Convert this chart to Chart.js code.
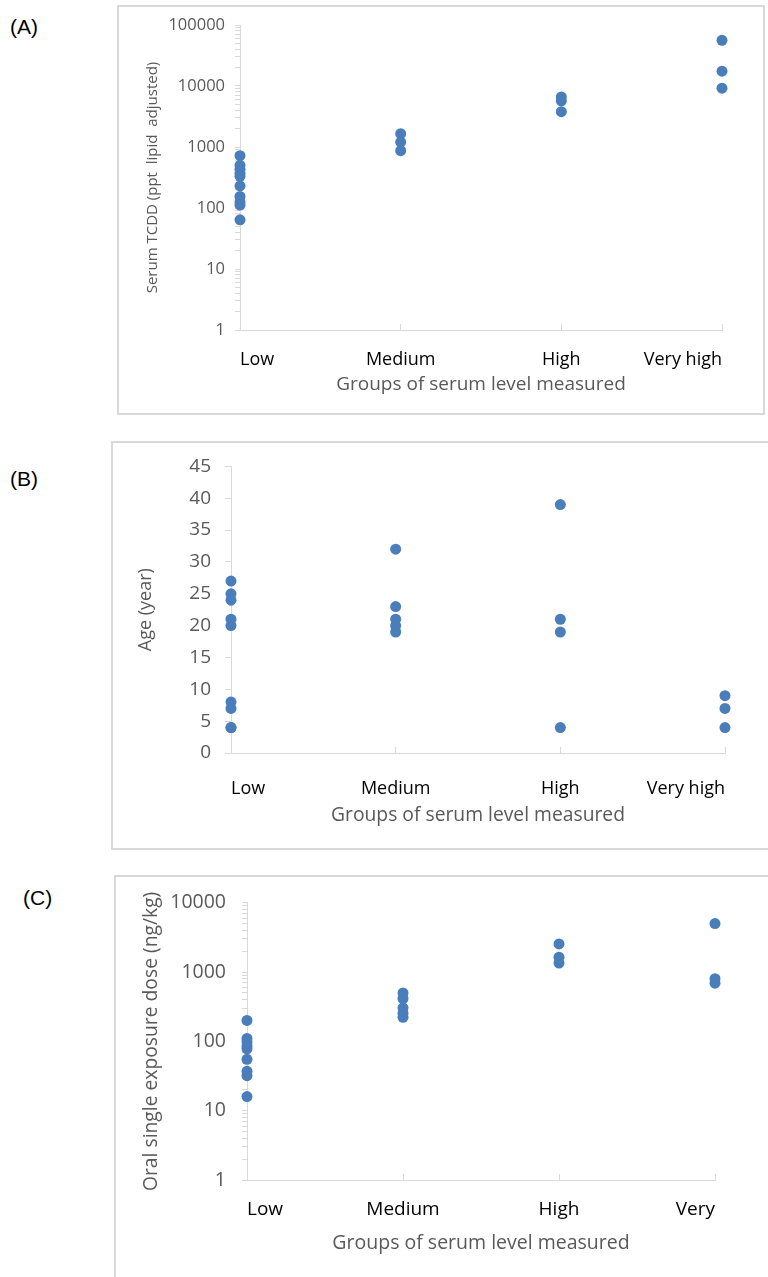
<!DOCTYPE html>
<html>
<head>
<meta charset="utf-8">
<script src="https://cdn.jsdelivr.net/npm/chart.js@4.4.1/dist/chart.umd.min.js"></script>
<style>
  body { margin: 0; background: #fff; width: 768px; height: 1277px; overflow: hidden; position: relative; font-family: "Liberation Sans", Arial, sans-serif; }
  .tag { position: absolute; font-size: 21px; color: #000; }
  .box { position: absolute; outline: 2px solid #d9d9d9; outline-offset: -2px; }
  .box canvas { position: absolute; left: 0; top: 0; }
</style>
</head>
<body>

<div class="tag" style="left:10px; top:15px;">(A)</div>
<div class="tag" style="left:10px; top:467px;">(B)</div>
<div class="tag" style="left:23px; top:886px;">(C)</div>

<div class="box" style="left:117px; top:5px; width:648px; height:410px;">
  <canvas id="chartA" width="648" height="410"></canvas>
</div>
<div class="box" style="left:111px; top:441px; width:659px; height:409px;">
  <canvas id="chartB" width="657" height="409"></canvas>
</div>
<div class="box" style="left:114px; top:875px; width:656px; height:420px;">
  <canvas id="chartC" width="654" height="402"></canvas>
</div>

<script>
// categories on the x axis
const groups = ['Low', 'Medium', 'High', 'Very high'];
const groupsC = ['Low', 'Medium', 'High', 'Very'];

// (A) serum TCDD, ppt lipid adjusted
const tcddLow = [720, 500, 430, 370, 330, 230, 155, 125, 112, 64];
const tcddMedium = [1650, 1200, 870];
const tcddHigh = [6600, 5700, 3800];
const tcddVeryHigh = [56000, 17500, 9200];

// (B) age, years
const ageLow = [27, 25, 24, 21, 20, 8, 7, 4, 4];
const ageMedium = [32, 23, 21, 20, 19];
const ageHigh = [39, 21, 19, 4];
const ageVeryHigh = [9, 7, 4];

// (C) oral single exposure dose, ng/kg
const doseLow = [200, 110, 98, 86, 78, 55, 37, 32, 16];
const doseMedium = [500, 415, 305, 255, 222];
const doseHigh = [2540, 1640, 1350];
const doseVeryHigh = [5000, 800, 690];

// y tick labels
const ageTicks = [0, 5, 10, 15, 20, 25, 30, 35, 40, 45];

const blue = '#4a7ebb';
const gray = '#595959';
const lineGray = '#d9d9d9';
const font = '"Open Sans", "DejaVu Sans", sans-serif';

function toPoints(lists) {
  let pts = [];
  lists.forEach((list, i) => list.forEach(v => pts.push({ x: i + 1, y: v })));
  return pts;
}

function logTicks(scale) {
  let ticks = [];
  let top = Math.round(Math.log10(scale.max));
  for (let e = 0; e < top; e++) {
    for (let m = 1; m < 10; m++) ticks.push({ value: m * Math.pow(10, e) });
  }
  ticks.push({ value: Math.pow(10, top) });
  scale.ticks = ticks;
}

function isPow10(v) {
  let l = Math.log10(v);
  return Math.abs(l - Math.round(l)) < 1e-9;
}

function makeChart(id, o) {
  let yScale;
  if (o.log) {
    yScale = {
      type: 'logarithmic',
      min: 1,
      max: o.max,
      afterBuildTicks: logTicks,
      ticks: {
        autoSkip: false,
        color: gray,
        padding: o.yTickPad,
        font: { family: font, size: o.yTickSize },
        callback: v => isPow10(v) ? String(Math.round(v)) : ''
      }
    };
  } else {
    yScale = {
      type: 'linear',
      min: 0,
      max: 45,
      afterBuildTicks: s => { s.ticks = ageTicks.map(v => ({ value: v })); },
      ticks: {
        autoSkip: false,
        color: gray,
        padding: o.yTickPad,
        font: { family: font, size: o.yTickSize }
      }
    };
  }
  yScale.grid = { drawOnChartArea: false, drawTicks: true, tickLength: o.tickLen, color: lineGray };
  yScale.border = { color: lineGray, width: 1 };
  yScale.title = {
    display: true,
    text: o.yTitle,
    color: gray,
    font: { family: font, size: o.yTitleSize },
    padding: { top: o.yTitlePad, bottom: 0 }
  };
  yScale.afterFit = s => { s.width = o.yWidth; };

  new Chart(document.getElementById(id), {
    type: 'scatter',
    data: {
      datasets: [{
        data: toPoints(o.series),
        backgroundColor: blue,
        borderWidth: 0,
        pointRadius: 5.5,
        pointHoverRadius: 5.5,
        clip: false
      }]
    },
    options: {
      responsive: false,
      animation: false,
      layout: { padding: { left: 0, top: o.padTop, right: o.padRight, bottom: 0 } },
      plugins: { legend: { display: false }, tooltip: { enabled: false } },
      scales: {
        x: {
          type: 'linear',
          min: 1,
          max: 4,
          afterBuildTicks: s => { s.ticks = [1, 2, 3, 4].map(v => ({ value: v })); },
          ticks: {
            align: 'inner',
            color: '#000',
            padding: o.xTickPad + 6,
            font: { family: font, size: o.xTickSize },
            callback: v => o.labels[v - 1]
          },
          // short marks pointing up into the plot, as in the source
          grid: { drawOnChartArea: false, drawTicks: true, tickLength: -6, color: lineGray },
          border: { color: lineGray, width: 1 },
          title: {
            display: true,
            text: 'Groups of serum level measured',
            color: gray,
            font: { family: font, size: o.xTitleSize },
            padding: { top: 0, bottom: o.xTitlePad }
          },
          afterFit: s => { s.height = o.xHeight; }
        },
        y: yScale
      }
    }
  });
}

makeChart('chartA', {
  log: true, max: 100000,
  series: [tcddLow, tcddMedium, tcddHigh, tcddVeryHigh],
  labels: groups,
  yTitle: 'Serum TCDD (ppt  lipid  adjusted)',
  yTitleSize: 15, yTitlePad: 27,
  yTickSize: 16.5, yTickPad: 10, tickLen: 5,
  yWidth: 123, padTop: 20, padRight: 43,
  xHeight: 85, xTickSize: 18, xTickPad: 19,
  xTitleSize: 19, xTitlePad: 19
});

makeChart('chartB', {
  log: false,
  series: [ageLow, ageMedium, ageHigh, ageVeryHigh],
  labels: groups,
  yTitle: 'Age (year)',
  yTitleSize: 18, yTitlePad: 24,
  yTickSize: 19, yTickPad: 14, tickLen: 6,
  yWidth: 120, padTop: 22, padRight: 43,
  xHeight: 97, xTickSize: 18, xTickPad: 25,
  xTitleSize: 19.3, xTitlePad: 23
});

makeChart('chartC', {
  log: true, max: 10000,
  series: [doseLow, doseMedium, doseHigh, doseVeryHigh],
  labels: groupsC,
  yTitle: 'Oral single exposure dose (ng/kg)',
  yTitleSize: 19.3, yTitlePad: 26,
  yTickSize: 19.5, yTickPad: 16, tickLen: 5,
  yWidth: 133, padTop: 25, padRight: 53,
  xHeight: 97, xTickSize: 19, xTickPad: 18,
  xTitleSize: 19.5, xTitlePad: 22
});
</script>
</body>
</html>
